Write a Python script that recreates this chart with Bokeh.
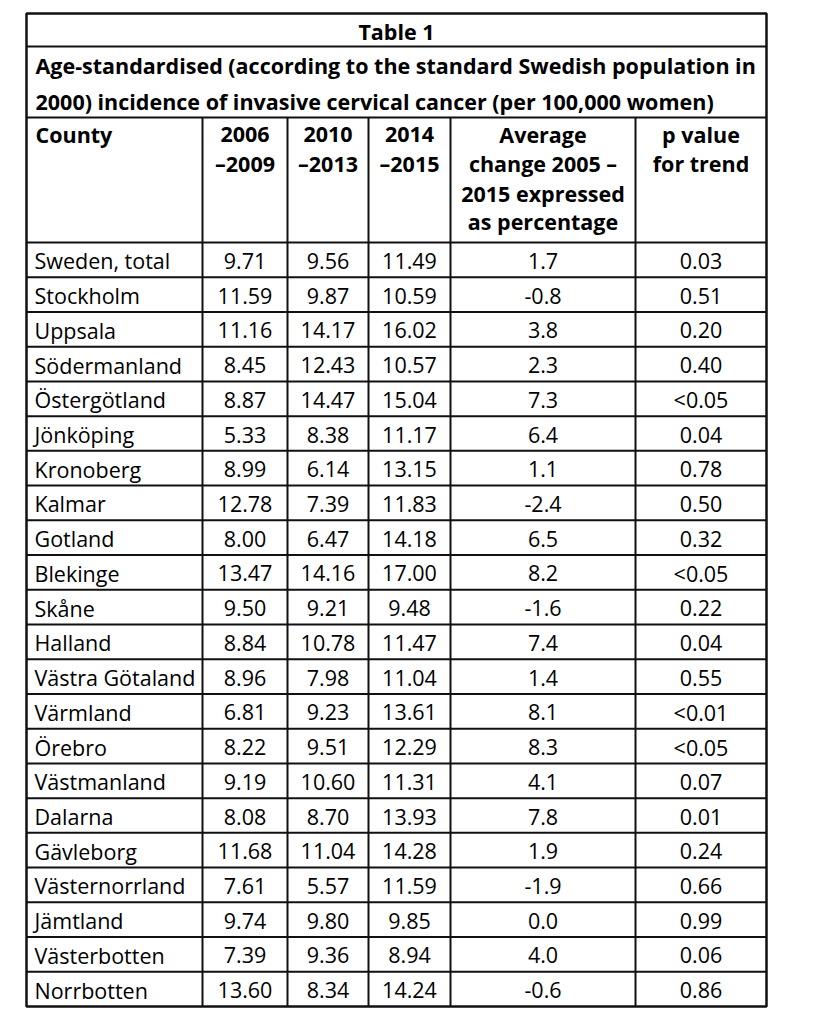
from bokeh.plotting import figure
from bokeh.models import Range1d, ColumnDataSource
from bokeh.core.properties import value
from bokeh.embed import file_html
from bokeh.resources import INLINE

# ---------------- data ----------------
title = "Table 1"
subtitle = ["Age-standardised (according to the standard Swedish population in",
            "2000) incidence of invasive cervical cancer (per 100,000 women)"]
headers = [["County"], ["2006", "–2009"], ["2010", "–2013"], ["2014", "–2015"],
           ["Average", "change 2005 –", "2015 expressed", "as percentage"],
           ["p value", "for trend"]]
counties = ["Sweden, total", "Stockholm", "Uppsala", "Södermanland", "Östergötland",
            "Jönköping", "Kronoberg", "Kalmar", "Gotland", "Blekinge", "Skåne",
            "Halland", "Västra Götaland", "Värmland", "Örebro", "Västmanland",
            "Dalarna", "Gävleborg", "Västernorrland", "Jämtland", "Västerbotten",
            "Norrbotten"]
inc_2006_2009 = [9.71, 11.59, 11.16, 8.45, 8.87, 5.33, 8.99, 12.78, 8.00, 13.47, 9.50,
                 8.84, 8.96, 6.81, 8.22, 9.19, 8.08, 11.68, 7.61, 9.74, 7.39, 13.60]
inc_2010_2013 = [9.56, 9.87, 14.17, 12.43, 14.47, 8.38, 6.14, 7.39, 6.47, 14.16, 9.21,
                 10.78, 7.98, 9.23, 9.51, 10.60, 8.70, 11.04, 5.57, 9.80, 9.36, 8.34]
inc_2014_2015 = [11.49, 10.59, 16.02, 10.57, 15.04, 11.17, 13.15, 11.83, 14.18, 17.00, 9.48,
                 11.47, 11.04, 13.61, 12.29, 11.31, 13.93, 14.28, 11.59, 9.85, 8.94, 14.24]
avg_change = [1.7, -0.8, 3.8, 2.3, 7.3, 6.4, 1.1, -2.4, 6.5, 8.2, -1.6,
              7.4, 1.4, 8.1, 8.3, 4.1, 7.8, 1.9, -1.9, 0.0, 4.0, -0.6]
p_trend = ["0.03", "0.51", "0.20", "0.40", "<0.05", "0.04", "0.78", "0.50", "0.32", "<0.05",
           "0.22", "0.04", "0.55", "<0.01", "<0.05", "0.07", "0.01", "0.24", "0.66", "0.99",
           "0.06", "0.86"]

# ---------------- layout ----------------
FONT = "Open Sans"
FS_BODY = "21.5px"
FS_HEAD = "21.5px"
col_edges = [27, 203, 288, 369, 451, 636, 767]
top, title_bot, sub_bot, head_bot, bottom = 14, 47, 118, 243, 1007
n = len(counties)
rh = (bottom - head_bot) / n

p = figure(width=806, height=1008, x_range=Range1d(1, 807), y_range=Range1d(1009, 1),
           output_backend="svg", toolbar_location=None, min_border=0)
p.axis.visible = False
p.grid.visible = False
p.outline_line_color = None
p.background_fill_color = "white"
p.border_fill_color = "white"

left, right = col_edges[0], col_edges[-1]
# horizontal lines
hy = [title_bot, sub_bot, head_bot] + [head_bot + rh * i for i in range(1, n)]
p.segment(x0=[left] * len(hy), y0=hy, x1=[right] * len(hy), y1=hy,
          line_color="#111111", line_width=2)
# vertical inner lines
vx = col_edges[1:-1]
p.segment(x0=vx, y0=[sub_bot] * len(vx), x1=vx, y1=[bottom] * len(vx),
          line_color="#111111", line_width=2)
# outer border
p.quad(left=[left], right=[right], top=[top], bottom=[bottom], fill_color=None,
       line_color="#111111", line_width=2.5)

common = dict(text_baseline="middle", text_font=value(FONT), text_color="black")

# title & subtitle
p.text(x=[(left + right) / 2], y=[32], text=[title], text_align="center",
       text_font_style="bold", text_font_size=FS_HEAD, **common)
p.text(x=[36, 36], y=[66, 102], text=subtitle, text_align="left",
       text_font_style="bold", text_font_size=FS_HEAD, **common)

# headers
hx, hyy, ht, ha = [], [], [], []
line_ys = [135, 164, 194, 222]
for i, lines in enumerate(headers):
    for j, t in enumerate(lines):
        if i == 0:
            hx.append(col_edges[0] + 9); ha.append("left")
        else:
            hx.append((col_edges[i] + col_edges[i + 1]) / 2); ha.append("center")
        hyy.append(line_ys[j]); ht.append(t)
p.text(x="x", y="y", text="t", text_align="a",
       source=ColumnDataSource(dict(x=hx, y=hyy, t=ht, a=ha)),
       text_font_style="bold", text_font_size=FS_HEAD, **common)

# body
cols = [counties,
        [f"{v:.2f}" for v in inc_2006_2009],
        [f"{v:.2f}" for v in inc_2010_2013],
        [f"{v:.2f}" for v in inc_2014_2015],
        [f"{v:.1f}" for v in avg_change],
        p_trend]
bx, by, bt, ba = [], [], [], []
for c, col in enumerate(cols):
    for r, t in enumerate(col):
        yc = head_bot + rh * r + rh / 2 + 1
        if c == 0:
            bx.append(col_edges[0] + 8); ba.append("left")
        else:
            bx.append((col_edges[c] + col_edges[c + 1]) / 2); ba.append("center")
        by.append(yc); bt.append(t)
p.text(x="x", y="y", text="t", text_align="a",
       source=ColumnDataSource(dict(x=bx, y=by, t=bt, a=ba)),
       text_font_style="normal", text_font_size=FS_BODY, **common)

open("out.html", "w").write(file_html(p, INLINE))
